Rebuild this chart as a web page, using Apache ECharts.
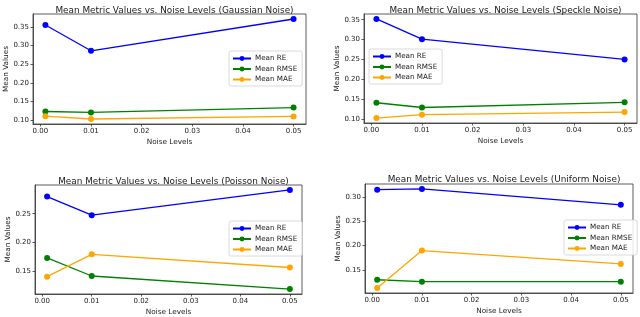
<!DOCTYPE html>
<html>
<head>
<meta charset="utf-8">
<script src="https://cdn.jsdelivr.net/npm/echarts@6/dist/echarts.min.js"></script>
<style>
html,body{margin:0;padding:0;background:#fff;}
#c{width:640px;height:317px;}
</style>
</head>
<body>
<div id="c"></div>
<script>
// ---- data ----
const noiseLevels = [0.001, 0.01, 0.05];
const seriesNames = ['Mean RE', 'Mean RMSE', 'Mean MAE'];
const panelTitles = [
  'Mean Metric Values vs. Noise Levels (Gaussian Noise)',
  'Mean Metric Values vs. Noise Levels (Speckle Noise)',
  'Mean Metric Values vs. Noise Levels (Poisson Noise)',
  'Mean Metric Values vs. Noise Levels (Uniform Noise)'
];
const gaussianRE   = [0.355, 0.286, 0.371];
const gaussianRMSE = [0.1235, 0.121, 0.134];
const gaussianMAE  = [0.111, 0.1035, 0.1105];
const speckleRE    = [0.352, 0.301, 0.250];
const speckleRMSE  = [0.141, 0.129, 0.142];
const speckleMAE   = [0.1025, 0.111, 0.1175];
const poissonRE    = [0.280, 0.2475, 0.2915];
const poissonRMSE  = [0.1728, 0.1412, 0.1184];
const poissonMAE   = [0.140, 0.179, 0.156];
const uniformRE    = [0.315, 0.3165, 0.284];
const uniformRMSE  = [0.130, 0.126, 0.126];
const uniformMAE   = [0.113, 0.190, 0.1625];
const xTicks = [0.00, 0.01, 0.02, 0.03, 0.04, 0.05];
const yTicksGaussian = [0.10, 0.15, 0.20, 0.25, 0.30, 0.35];
const yTicksSpeckle  = [0.10, 0.15, 0.20, 0.25, 0.30, 0.35];
const yTicksPoisson  = [0.15, 0.20, 0.25];
const yTicksUniform  = [0.15, 0.20, 0.25, 0.30];
const xAxisName = 'Noise Levels';
const yAxisName = 'Mean Values';

// ---- layout / style ----
const colors = ['#0000ff', '#008000', '#ffa500'];
const FONT = 'DejaVu Sans';
const TXT = '#1a1a1a';
const panels = [
  {vals:[gaussianRE, gaussianRMSE, gaussianMAE], yTicks:yTicksGaussian,
   grid:{left:33, top:14, width:273, height:110}, titleTop:1, legend:{left:229, top:51}},
  {vals:[speckleRE, speckleRMSE, speckleMAE], yTicks:yTicksSpeckle,
   grid:{left:364, top:14, width:273, height:109}, titleTop:1, legend:{left:369, top:49}},
  {vals:[poissonRE, poissonRMSE, poissonMAE], yTicks:yTicksPoisson,
   grid:{left:35, top:185, width:267, height:110}, titleTop:172, legend:{left:229, top:221}},
  {vals:[uniformRE, uniformRMSE, uniformMAE], yTicks:yTicksUniform,
   grid:{left:365, top:184, width:268, height:109}, titleTop:170, legend:{left:564, top:220}}
];

function extent(arrs){
  let mn = Infinity, mx = -Infinity;
  arrs.forEach(a => a.forEach(v => { mn = Math.min(mn, v); mx = Math.max(mx, v); }));
  const m = (mx - mn) * 0.05;
  return [mn - m, mx + m];
}
const xExt = extent([noiseLevels]);

const option = {
  animation: false,
  backgroundColor: '#fff',
  title: [], grid: [], xAxis: [], yAxis: [], legend: [], series: []
};

panels.forEach((p, i) => {
  const yExt = extent(p.vals);
  option.title.push({
    text: panelTitles[i],
    left: p.grid.left + p.grid.width / 2,
    top: p.titleTop,
    textAlign: 'center',
    textStyle: {fontFamily: FONT, fontSize: 8.9, fontWeight: 'normal', color: TXT}
  });
  option.grid.push(Object.assign({show: true, borderColor: '#333', borderWidth: 0.8, backgroundColor: 'transparent'}, p.grid));
  option.xAxis.push({
    type: 'value', gridIndex: i, min: xExt[0], max: xExt[1],
    name: xAxisName, nameLocation: 'middle', nameGap: 15,
    nameTextStyle: {fontFamily: FONT, fontSize: 7.3, color: TXT},
    axisLine: {show: true, onZero: false, lineStyle: {color: '#333', width: 0.8}},
    axisTick: {show: true, length: 2.5, customValues: xTicks, lineStyle: {color: '#333', width: 0.8}},
    axisLabel: {customValues: xTicks, margin: 4, fontFamily: FONT, fontSize: 7, color: TXT,
      formatter: v => v.toFixed(2)},
    splitLine: {show: false}
  });
  option.yAxis.push({
    type: 'value', gridIndex: i, min: yExt[0], max: yExt[1],
    name: yAxisName, nameLocation: 'middle', nameGap: 23,
    nameTextStyle: {fontFamily: FONT, fontSize: 7.3, color: TXT},
    axisLine: {show: true, onZero: false, lineStyle: {color: '#333', width: 0.8}},
    axisTick: {show: true, length: 2.5, customValues: p.yTicks, lineStyle: {color: '#333', width: 0.8}},
    axisLabel: {customValues: p.yTicks, margin: 4, fontFamily: FONT, fontSize: 7, color: TXT,
      formatter: v => v.toFixed(2)},
    splitLine: {show: false}
  });
  option.legend.push({
    show: true, orient: 'vertical', left: p.legend.left, top: p.legend.top,
    data: seriesNames, itemWidth: 18, itemHeight: 6, itemGap: 3.5,
    padding: [4, 5, 3, 3],
    backgroundColor: 'rgba(255,255,255,0.85)', borderColor: '#d0d0d0', borderWidth: 0.8, borderRadius: 2,
    textStyle: {fontFamily: FONT, fontSize: 7.2, color: TXT, padding: [0, 0, 0, -1]},
    selectedMode: false
  });
  p.vals.forEach((arr, k) => {
    option.series.push({
      type: 'line', name: seriesNames[k], xAxisIndex: i, yAxisIndex: i,
      data: noiseLevels.map((x, j) => [x, arr[j]]),
      color: colors[k],
      symbol: 'circle', symbolSize: 6,
      lineStyle: {width: 1.3, color: colors[k]},
      itemStyle: {color: colors[k]}
    });
  });
});

const chart = echarts.init(document.getElementById('c'), null, {renderer: 'canvas'});
chart.setOption(option);
</script>
</body>
</html>
